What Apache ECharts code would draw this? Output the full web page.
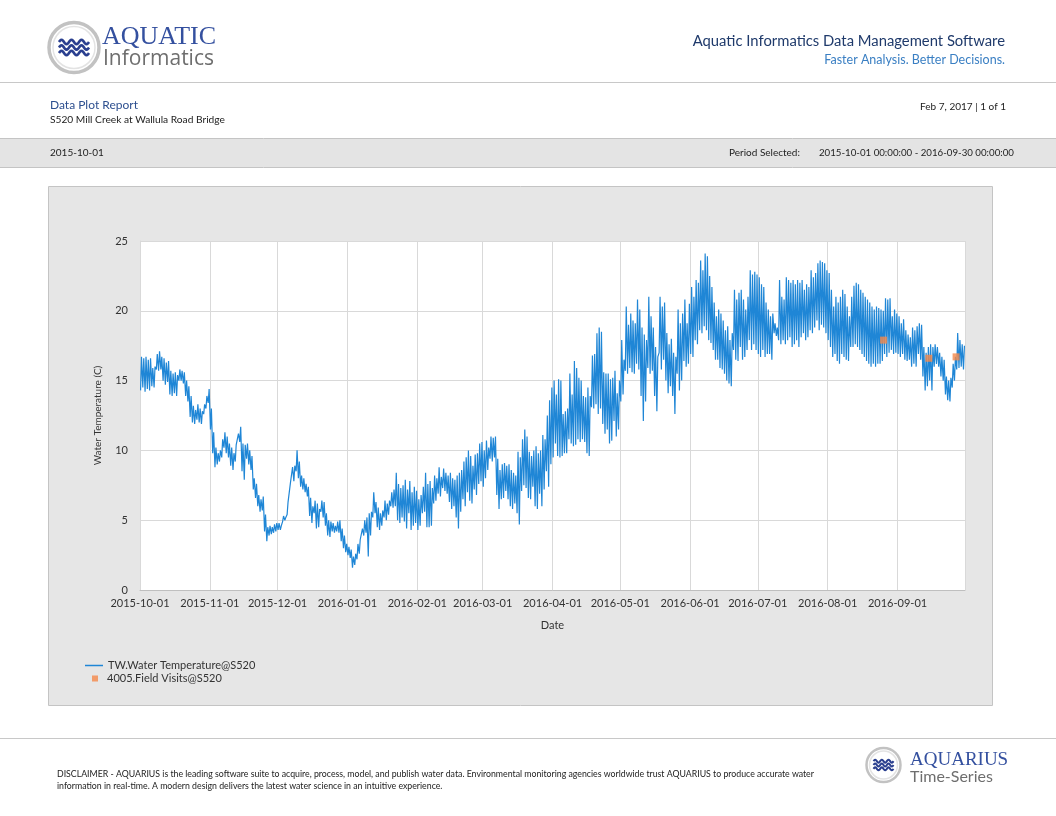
<!DOCTYPE html>
<html><head><meta charset="utf-8">
<script src="https://cdn.jsdelivr.net/npm/echarts@6/dist/echarts.min.js"></script>
<style>html,body{margin:0;padding:0;background:#fff}#c{width:1056px;height:816px}</style>
</head><body><div id="c"></div>
<script>
// Daily high / low water temperature (C), Oct 2015 - Sep 2016
const hiOct = [16.7,16.6,16.7,16.5,16.6,15.9,16.0,16.9,17.1,16.7,16.6,16.3,16.4,15.7,15.5,15.6,15.4,15.8,15.7,15.6,15.0,14.6,13.9,13.2,12.9,13.3,13.0,12.8,13.3,13.9,14.4];
const loOct = [14.3,14.5,14.2,14.4,14.3,14.6,14.5,15.8,15.7,15.8,15.0,14.7,14.9,14.0,13.9,14.1,13.9,15.0,15.0,14.8,13.9,13.5,12.4,12.0,11.9,12.2,12.0,11.9,12.6,13.0,13.4];
const hiNov = [13.0,11.3,10.2,9.8,10.0,10.8,11.3,11.0,10.5,10.2,9.8,10.4,11.2,11.7,10.5,10.4,10.5,10.0,9.6,8.0,7.6,6.8,6.5,6.7,5.4,4.5,4.6,4.5,4.7,4.8];
const loNov = [11.5,9.8,8.8,9.0,9.2,9.5,10.2,9.8,9.5,8.9,8.6,9.2,10.3,10.6,8.5,7.9,9.4,9.0,8.6,7.2,6.6,6.0,5.6,5.7,4.2,3.5,3.9,4.0,4.1,4.2];
const hiDec = [4.8,4.6,5.3,5.2,6.3,7.6,8.8,8.9,10.0,9.2,8.2,8.0,7.6,7.4,6.6,6.0,6.4,6.2,5.8,6.4,6.3,5.5,5.0,4.9,4.8,4.6,4.9,5.0,4.4,3.9,3.3];
const loDec = [4.3,4.3,4.9,5.0,5.4,6.3,7.7,7.8,8.5,8.0,7.4,7.2,7.0,6.7,5.3,4.8,5.5,4.4,4.5,5.6,5.2,4.6,3.9,3.8,4.2,4.1,4.2,4.1,3.5,3.0,2.7];
const hiJan = [3.1,2.9,2.4,2.6,3.3,3.6,4.4,5.0,5.2,5.5,5.6,7.0,6.3,5.9,5.5,5.7,6.4,6.2,6.4,7.0,7.2,8.4,7.6,7.3,7.5,7.9,7.2,7.8,7.0,7.4,7.1];
const loJan = [2.5,2.3,1.6,1.8,2.2,2.6,3.6,3.9,4.1,2.4,3.9,5.2,5.5,4.5,4.3,4.6,5.2,5.0,5.4,6.0,5.9,6.0,5.0,4.8,5.2,4.9,4.4,5.5,4.3,4.6,4.8];
const hiFeb = [6.5,6.8,7.4,8.4,7.6,7.8,7.3,8.2,8.0,8.8,8.1,8.7,8.4,8.2,8.4,8.0,7.9,8.2,8.4,8.6,9.2,9.5,10.0,9.6,8.9,9.7,9.8,10.5,10.6];
const loFeb = [4.3,4.6,5.5,5.6,4.5,4.5,4.6,6.2,6.4,6.9,6.7,7.3,7.1,6.9,6.3,5.8,6.0,5.2,4.4,5.6,6.5,6.0,7.0,6.4,6.2,7.2,6.8,7.6,7.8];
const hiMar = [10.0,10.7,10.2,11.0,10.9,11.0,9.4,8.6,9.0,9.1,8.9,9.0,8.6,8.4,8.2,9.9,9.5,10.8,11.5,11.0,9.9,9.6,10.0,10.3,9.8,10.0,11.1,10.8,12.5,13.6,14.5];
const loMar = [7.4,8.0,8.6,9.4,9.2,9.5,6.8,5.8,6.5,6.6,7.1,6.5,6.0,5.8,6.2,5.5,4.7,7.1,7.5,7.3,6.6,6.5,7.4,6.0,5.8,6.9,6.0,7.2,8.5,7.4,9.0];
const hiApr = [15.0,14.0,15.1,15.0,12.6,12.8,13.0,15.5,14.0,16.4,15.9,15.2,15.0,13.9,13.8,14.5,13.9,16.8,16.9,18.4,18.8,18.5,15.6,15.5,15.5,15.1,15.2,15.7,14.1,15.0];
const loApr = [9.5,10.5,9.6,9.5,9.6,9.8,9.8,10.8,10.5,10.3,10.4,10.8,10.6,10.8,10.6,9.8,9.6,13.1,13.0,13.3,12.6,13.0,11.9,11.2,11.5,10.5,10.7,12.1,11.0,11.5];
const hiMay = [17.9,16.5,20.3,19.0,19.8,19.3,19.1,20.8,20.1,18.8,18.3,17.9,21.0,19.6,18.8,17.4,16.7,21.0,20.3,20.6,18.4,17.6,18.0,17.0,16.7,20.1,19.1,19.8,20.8,19.1,20.5];
const loMay = [13.5,14.0,15.7,15.5,15.9,15.6,15.5,16.2,15.8,13.9,12.1,13.5,15.9,15.5,15.7,13.9,12.8,17.0,15.8,16.5,15.0,14.1,14.6,13.9,12.6,15.5,14.3,15.0,16.4,16.0,16.2];
const hiJun = [21.7,21.0,22.2,22.0,23.6,22.9,24.1,23.9,22.5,21.7,20.6,19.6,20.1,19.8,19.3,18.6,18.9,17.9,18.4,21.5,20.8,21.3,21.5,20.8,20.1,21.0,22.9,22.6,22.8,22.6];
const loJun = [16.9,16.7,17.9,17.6,18.6,18.4,18.9,18.6,17.9,17.7,17.2,16.5,16.5,15.9,15.8,15.5,15.0,14.8,14.6,17.2,16.5,16.4,17.4,16.5,16.7,17.2,17.9,17.2,17.6,17.2];
const hiJul = [22.4,21.9,21.7,20.6,20.1,19.6,19.8,19.1,18.8,22.2,21.0,20.8,22.4,22.2,22.0,22.2,21.9,22.2,22.0,22.2,21.5,21.9,21.7,22.9,22.4,22.7,23.4,23.6,23.5,23.4,22.9];
const loJul = [16.9,16.7,17.2,16.7,16.9,16.9,16.5,18.4,18.2,17.9,17.6,17.9,17.6,17.9,18.1,17.4,17.6,17.9,17.4,18.1,18.4,17.9,18.1,18.6,18.4,18.8,19.3,18.6,19.0,18.8,18.4];
const hiAug = [22.7,21.5,20.3,21.0,20.6,21.0,21.5,21.2,20.3,19.6,21.0,21.8,22.0,21.9,21.5,21.3,21.0,20.8,20.6,20.3,20.1,20.3,20.2,20.1,20.0,20.9,20.8,20.9,19.6,20.1,19.8];
const loAug = [17.9,17.4,16.7,16.9,16.4,16.2,16.9,16.7,16.5,16.4,17.4,17.4,17.6,17.4,17.2,16.9,16.7,16.4,16.2,16.0,16.2,16.0,16.2,16.2,16.4,16.9,16.7,17.0,17.2,16.9,17.0];
const hiSep = [19.6,19.1,19.4,18.6,18.3,18.1,18.8,18.6,18.9,19.1,19.0,17.4,17.0,17.4,17.6,17.4,17.6,17.4,17.0,16.7,16.5,15.3,15.0,15.2,16.2,16.7,18.4,17.9,17.6,17.5];
const loSep = [16.9,16.7,16.9,16.5,16.4,16.5,16.0,16.2,16.0,16.9,16.5,15.3,14.3,14.6,15.0,14.3,16.0,16.2,16.0,15.3,15.0,14.0,13.6,13.5,14.5,15.0,15.8,15.9,16.0,15.8];

// Field visits
const visitTimes = ['2016-08-25 19:00', '2016-09-14 21:00', '2016-09-26 23:00'];
const visitValues = [17.9, 16.6, 16.7];

// Axis
const yTicks = [0, 5, 10, 15, 20, 25];
const seriesNames = ['TW.Water Temperature@S520', '4005.Field Visits@S520'];

const highs = [].concat(hiOct, hiNov, hiDec, hiJan, hiFeb, hiMar, hiApr, hiMay, hiJun, hiJul, hiAug, hiSep);
const lows = [].concat(loOct, loNov, loDec, loJan, loFeb, loMar, loApr, loMay, loJun, loJul, loAug, loSep);

const tempData = [];
for (let d = 0; d < highs.length; d++) {
  tempData.push([new Date(2015, 9, 1 + d, 6).getTime(), lows[d]]);
  tempData.push([new Date(2015, 9, 1 + d, 16).getTime(), highs[d]]);
}
function parseT(s) { const [a, b] = s.split(' '); const [Y, M, D] = a.split('-').map(Number); const [h, m] = b.split(':').map(Number); return new Date(Y, M - 1, D, h, m).getTime(); }
const visitData = visitTimes.map((t, i) => [parseT(t), visitValues[i]]);

function wavePoints(x0, y0, w, a, periods) {
  const pts = []; const n = 48;
  for (let i = 0; i <= n; i++) {
    const t = i / n;
    pts.push([x0 + w * t, y0 - a * Math.sin(t * periods * 2 * Math.PI)]);
  }
  return pts;
}
function logo(cx, cy, r, ww, amp, gap, lw) {
  const big = r > 20;
  const els = [
    { type: 'circle', z: 5, shape: { cx: cx, cy: cy, r: r }, style: { fill: '#ffffff', stroke: '#c2c2c2', lineWidth: big ? 3.5 : 2.5 } },
    { type: 'circle', z: 5, shape: { cx: cx, cy: cy, r: r - (big ? 4 : 3) }, style: { fill: 'none', stroke: '#e3e3e3', lineWidth: 1.5 } }
  ];
  for (let k = -1; k <= 1; k++) {
    els.push({ type: 'polyline', z: 6, shape: { points: wavePoints(cx - ww / 2, cy + k * gap, ww, amp, 3) }, style: { fill: 'none', stroke: '#2a3f8f', lineWidth: lw } });
  }
  return els;
}
const F = 'Lato, "Open Sans", sans-serif';
function txt(x, y, s, size, color, align, font) {
  return { type: 'text', z: 10, x: x, y: y, style: { text: s, font: size + 'px ' + (font || F), fill: color, align: align || 'left', verticalAlign: 'middle' } };
}

const chart = echarts.init(document.getElementById('c'), null, { renderer: 'canvas' });
chart.setOption({
  backgroundColor: '#ffffff',
  animation: false,
  textStyle: { fontFamily: F },
  graphic: { elements: [
    { type: 'rect', z: -10, shape: { x: 48.5, y: 186.5, width: 944, height: 519 }, style: { fill: '#e6e6e6', stroke: '#c4c4c4', lineWidth: 1 } },
    { type: 'rect', z: -9, shape: { x: 140, y: 241, width: 825, height: 349 }, style: { fill: '#ffffff' } },
    { type: 'line', z: 1, shape: { x1: 0, y1: 82.5, x2: 1056, y2: 82.5 }, style: { stroke: '#c8c8c8', lineWidth: 1 } },
    { type: 'rect', z: 1, shape: { x: -1, y: 138.5, width: 1058, height: 29 }, style: { fill: '#e4e4e4', stroke: '#c4c4c4', lineWidth: 1 } },
    { type: 'line', z: 1, shape: { x1: 0, y1: 738.5, x2: 1056, y2: 738.5 }, style: { stroke: '#c8c8c8', lineWidth: 1 } },
    ...logo(74, 47.5, 25, 30, 2.2, 5.5, 2.6),
    txt(102, 37, 'AQUATIC', 26, '#34509f', 'left', '"Liberation Serif", serif'),
    txt(103, 59, 'Informatics', 21, '#6e6e6e', 'left', '"Open Sans", sans-serif'),
    txt(1005, 41, 'Aquatic Informatics Data Management Software', 14.8, '#1f3a6b', 'right'),
    txt(1005, 60, 'Faster Analysis. Better Decisions.', 12.5, '#3a7fc3', 'right'),
    txt(50, 105, 'Data Plot Report', 12, '#2d4f8f'),
    txt(50, 120, 'S520 Mill Creek at Wallula Road Bridge', 10.2, '#222222'),
    txt(1006, 107, 'Feb 7, 2017 | 1 of 1', 10, '#222222', 'right'),
    txt(50, 153, '2015-10-01', 10, '#222222'),
    txt(729, 153, 'Period Selected:', 10, '#222222'),
    txt(819, 153, '2015-10-01 00:00:00 - 2016-09-30 00:00:00', 9.7, '#222222'),
    txt(57, 774, 'DISCLAIMER - AQUARIUS is the leading software suite to acquire, process, model, and publish water data. Environmental monitoring agencies worldwide trust AQUARIUS to produce accurate water', 8.75, '#222222'),
    txt(57, 786, 'information in real-time. A modern design delivers the latest water science in an intuitive experience.', 8.75, '#222222'),
    ...logo(883.5, 765, 17, 20, 1.5, 3.8, 2),
    txt(910, 760, 'AQUARIUS', 19, '#34509f', 'left', '"Liberation Serif", serif'),
    txt(910, 777, 'Time-Series', 16, '#6e6e6e', 'left')
  ] },
  legend: [
    { left: 85, top: 660, padding: 0, itemWidth: 18, itemHeight: 1.5, icon: 'rect', data: [{ name: seriesNames[0] }], textStyle: { fontSize: 11, color: '#333' }, itemStyle: { color: '#1f86d6' } },
    { left: 92, top: 673, padding: 0, itemWidth: 6, itemHeight: 6, icon: 'rect', data: [{ name: seriesNames[1] }], textStyle: { fontSize: 11, color: '#333', padding: [0, 0, 0, 4] } }
  ],
  grid: { left: 140, right: 91, top: 241, bottom: 226, show: false, containLabel: false },
  xAxis: {
    type: 'time',
    min: new Date(2015, 9, 1).getTime(),
    max: new Date(2016, 8, 30, 22).getTime(),
    splitNumber: 12,
    name: 'Date', nameLocation: 'middle', nameGap: 30,
    nameTextStyle: { fontSize: 11, color: '#333' },
    axisLine: { show: true, lineStyle: { color: '#bfbfbf' } },
    axisTick: { show: false },
    axisLabel: { formatter: '{yyyy}-{MM}-{dd}', fontSize: 11, color: '#333', margin: 8, hideOverlap: false, showMinLabel: true },
    splitLine: { show: true, lineStyle: { color: '#d9d9d9' } },
    minorTick: { show: false }
  },
  yAxis: {
    type: 'value', min: yTicks[0], max: yTicks[yTicks.length - 1], interval: 5,
    name: 'Water Temperature (C)', nameLocation: 'middle', nameGap: 37,
    nameTextStyle: { fontSize: 10, color: '#333' },
    axisLine: { show: true, lineStyle: { color: '#d9d9d9' } },
    axisTick: { show: false },
    axisLabel: { fontSize: 11, color: '#333', margin: 12 },
    splitLine: { show: true, lineStyle: { color: '#d9d9d9' } }
  },
  series: [
    { name: seriesNames[0], type: 'line', data: tempData, showSymbol: false, symbol: 'none', lineStyle: { color: '#1f86d6', width: 1.2 }, itemStyle: { color: '#1f86d6' }, z: 3 },
    { name: seriesNames[1], type: 'scatter', data: visitData, symbol: 'rect', symbolSize: 7, itemStyle: { color: '#f5884a' }, z: 4 }
  ]
});
</script></body></html>
